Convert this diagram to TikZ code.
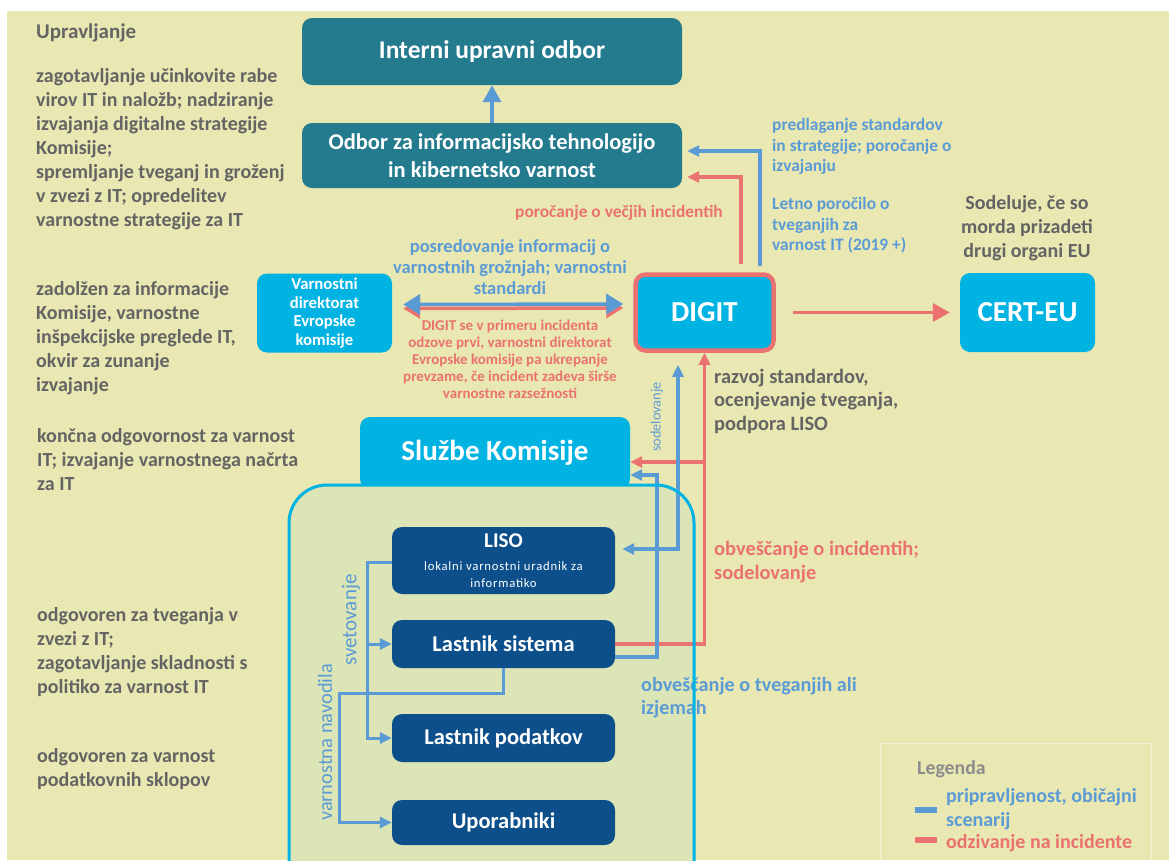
\documentclass[tikz,border=0pt]{standalone}
\usepackage{fontspec}
\setmainfont{Carlito}
\usetikzlibrary{arrows.meta,positioning}
\definecolor{pozadina}{HTML}{E9E8B2}
\definecolor{zelena}{HTML}{DCE5B6}
\definecolor{petrol}{HTML}{257B8E}
\definecolor{cian}{HTML}{00B3E2}
\definecolor{temnomodra}{HTML}{0D4F8A}
\definecolor{modra}{HTML}{5B9BD5}
\definecolor{rdeca}{HTML}{EA7270}
\definecolor{siva}{HTML}{646464}
\definecolor{svetlosiva}{HTML}{8C8C8C}
\tikzset{
  >={Triangle[length=12pt,width=11pt]},
}
\tikzstyle{okvir}=[rounded corners=10pt, align=center, text=white, inner sep=0pt]
\tikzstyle{odbor}=[okvir, fill=petrol, minimum width=380pt]
\tikzstyle{sluzba}=[okvir, fill=cian]
\tikzstyle{enota}=[okvir, fill=temnomodra, minimum width=223pt, font=\bfseries\fontsize{22.5}{24}\selectfont]
\tikzstyle{opis}=[align=left, anchor=west, inner sep=0pt, text=siva, font=\bfseries\fontsize{20}{24}\selectfont]
\tikzstyle{oznaka}=[align=left, inner sep=0pt, font=\bfseries\fontsize{17.4}{20.5}\selectfont]
\tikzstyle{modro}=[line width=3.5pt, draw=modra]
\tikzstyle{rdece}=[line width=3.5pt, draw=rdeca]
\tikzstyle{velika}=[-{Triangle[length=17pt,width=18pt]}]

\begin{document}
\begin{tikzpicture}[x=1pt,y=-1pt]
  \useasboundingbox (0,0) rectangle (1169,860);
  \clip (0,0) rectangle (1169,860);
  \fill[white] (0,0) rectangle (1169,860);
  \fill[pozadina] (7,11) rectangle (1169,860);

  % odbora na vrhu
  \node[odbor, minimum height=67pt, font=\bfseries\fontsize{25.5}{28}\selectfont] (iuo) at (492,51.5) {Interni upravni odbor};
  \node[odbor, minimum height=65pt, font=\bfseries\fontsize{22.5}{28}\selectfont] (oit) at (492,155.5)
    {Odbor za informacijsko tehnologijo\\in kibernetsko varnost};
  \draw[modro,velika] (oit.north) -- (iuo.south);

  % DIGIT, CERT-EU, varnostni direktorat
  \node[sluzba, draw=rdeca, line width=4.5pt, minimum width=138pt, minimum height=76pt,
    font=\bfseries\fontsize{29}{32}\selectfont] (digit) at (704.5,312.5) {DIGIT};
  \node[sluzba, minimum width=135pt, minimum height=79pt, font=\bfseries\fontsize{29}{32}\selectfont] (cert) at (1027.5,312.5) {CERT-EU};
  \node[sluzba, minimum width=135pt, minimum height=79pt, font=\bfseries\fontsize{16.7}{18.7}\selectfont] (vdek) at (324.5,313)
    {Varnostni\\direktorat\\Evropske\\komisije};
  \draw[rdece,velika] ([xshift=17pt]digit.east) -- ([xshift=-10pt]cert.west);
  \draw[rdece,{Triangle[length=17pt,width=20pt]}-{Triangle[length=17pt,width=20pt]}]
    ([shift={(11pt,4.5pt)}]vdek.east) -- ([shift={(-10pt,4.5pt)}]digit.west);
  \draw[modro,{Triangle[length=17pt,width=20pt]}-{Triangle[length=17pt,width=20pt]}]
    ([shift={(11pt,8.5pt)}]vdek.east) -- ([shift={(-10pt,8.5pt)}]digit.west);
  \draw[rdece,->] ([shift={(36.5pt,8pt)}]digit.north) |- ([shift={(5pt,-21.5pt)}]oit.east);
  \draw[modro,->] ([shift={(55.5pt,6pt)}]digit.north) |- ([shift={(5pt,4.5pt)}]oit.east);

  \node[oznaka, align=center, text=modra, font=\bfseries\fontsize{18.5}{21}\selectfont] (posr) at (510,267)
    {posredovanje informacij o\\varnostnih grožnjah; varnostni\\standardi};
  \node[oznaka, align=center, text=rdeca, font=\bfseries\fontsize{15}{17}\selectfont] (odziv) at (510,359.5)
    {DIGIT se v primeru incidenta\\odzove prvi, varnostni direktorat\\Evropske komisije pa ukrepanje\\prevzame, če incident zadeva širše\\varnostne razsežnosti};
  \node[oznaka, anchor=west, text=modra] (predl) at (772,146.5)
    {predlaganje standardov\\in strategije; poročanje o\\izvajanju};
  \node[oznaka, anchor=west, text=modra] (letno) at (772,225.5)
    {Letno poročilo o\\tveganjih za\\varnost IT (2019 +)};
  \node[oznaka, anchor=east, text=rdeca] (vecji) at (723,213) {poročanje o večjih incidentih};
  \node[opis, anchor=center, align=center] (sodel) at (1027,228)
    {Sodeluje, če so\\morda prizadeti\\drugi organi EU};

  % opisi na levi
  \node[opis, font=\bfseries\fontsize{21}{24}\selectfont] (upr) at (36,33) {Upravljanje};
  \node[opis] (uprt) at (36,149)
    {zagotavljanje učinkovite rabe\\virov IT in naložb; nadziranje\\izvajanja digitalne strategije\\Komisije;\\spremljanje tveganj in groženj\\v zvezi z IT; opredelitev\\varnostne strategije za IT};
  \node[opis] (vdekt) at (36,338.5)
    {zadolžen za informacije\\Komisije, varnostne\\inšpekcijske preglede IT,\\okvir za zunanje\\izvajanje};
  \node[opis] (skt) at (37,459.5)
    {končna odgovornost za varnost\\IT; izvajanje varnostnega načrta\\za IT};
  \node[opis] (lsist) at (37,652)
    {odgovoren za tveganja v\\zvezi z IT;\\zagotavljanje skladnosti s\\politiko za varnost IT};
  \node[opis] (lpodt) at (37,769.5)
    {odgovoren za varnost\\podatkovnih sklopov};

  % sluzbe komisije
  \node[sluzba, minimum width=270pt, minimum height=72pt, font=\bfseries\fontsize{29}{32}\selectfont] (sk) at (495,453) {Službe Komisije};
  \fill[zelena, rounded corners=38pt] (289,485) rectangle (694,900);

  \node[enota, minimum height=67pt, font=\bfseries\fontsize{21}{17}\selectfont] (liso) at (503.5,560.5)
    {LISO\\[6pt]{\mdseries\fontsize{12.7}{17}\selectfont\addfontfeature{LetterSpace=6}lokalni varnostni uradnik za}\\
     {\mdseries\fontsize{12.7}{17}\selectfont\addfontfeature{LetterSpace=6}informatiko}};
  \node[enota, minimum height=48pt] (lsis) at (503.5,644) {Lastnik sistema};
  \node[enota, minimum height=48pt] (lpod) at (503.5,738) {Lastnik podatkov};
  \node[enota, minimum height=45pt] (upo) at (503.5,822.5) {Uporabniki};

  % svetovanje in navodila
  \coordinate (sv) at (367,562);
  \coordinate (vn) at (339,693);
  \draw[modro,line width=3pt,->] (liso.west |- sv) -- (sv) |- (lpod.west);
  \draw[modro,line width=3pt,->] (sv |- lsis.west) -- (lsis.west);
  \draw[modro,line width=3pt,->] (lsis.south) |- (vn) |- (upo.west);
  \node[rotate=90, text=modra, inner sep=0pt, font=\fontsize{21}{22}\selectfont] (svl) at (351,620) {svetovanje};
  \node[rotate=90, text=modra, inner sep=0pt, font=\fontsize{20.4}{22}\selectfont] (vnl) at (325,742.5) {varnostna navodila};

  % povezave z DIGIT
  \coordinate (rk) at (704.5,462);
  \coordinate (bk) at (657,475);
  \draw[rdece,->] (lsis.east) -| (digit.south);
  \draw[rdece,->] (rk) -- (rk -| sk.east);
  \draw[modro,->] ([yshift=-13pt]lsis.east) -| (bk) -- (bk -| sk.east);
  \draw[modro,<->] ([shift={(-26.5pt,-12pt)}]digit.south) |- ([shift={(7pt,11.5pt)}]liso.east);
  \node[rotate=90, text=modra, inner sep=0pt, font=\fontsize{14.3}{16}\selectfont] (sodl) at (657,417) {sodelovanje};

  \node[opis, font=\bfseries\fontsize{20.4}{23.5}\selectfont] (razvoj) at (714,401) {razvoj standardov,\\ocenjevanje tveganja,\\podpora LISO};
  \node[opis, text=rdeca, font=\bfseries\fontsize{20.4}{24}\selectfont] (obvinc) at (714,562) {obveščanje o incidentih;\\sodelovanje};
  \node[opis, text=modra, font=\bfseries\fontsize{20.2}{23}\selectfont] (obvtv) at (641,697.5) {obveščanje o tveganjih ali\\izjemah};

  \draw[cian, line width=3pt, rounded corners=38pt] (289,485) rectangle (694,900);

  % legenda
  \draw[white!45!pozadina, line width=1pt] (880,743) rectangle (1151,880);
  \node[opis, text=svetlosiva, font=\bfseries\fontsize{19.8}{22}\selectfont] (leg) at (917,769) {Legenda};
  \node[fill=modra, minimum width=22pt, minimum height=6pt, inner sep=0pt] (legm) at (926,810) {};
  \node[fill=rdeca, minimum width=22pt, minimum height=6pt, inner sep=0pt] (legr) at (926,840) {};
  \node[opis, text=modra, font=\bfseries\fontsize{20}{24}\selectfont] (legmt) at (946,809.5) {pripravljenost, običajni\\scenarij};
  \node[opis, text=rdeca, font=\bfseries\fontsize{20}{24}\selectfont] (legrt) at (946,843) {odzivanje na incidente};
\end{tikzpicture}
\end{document}
